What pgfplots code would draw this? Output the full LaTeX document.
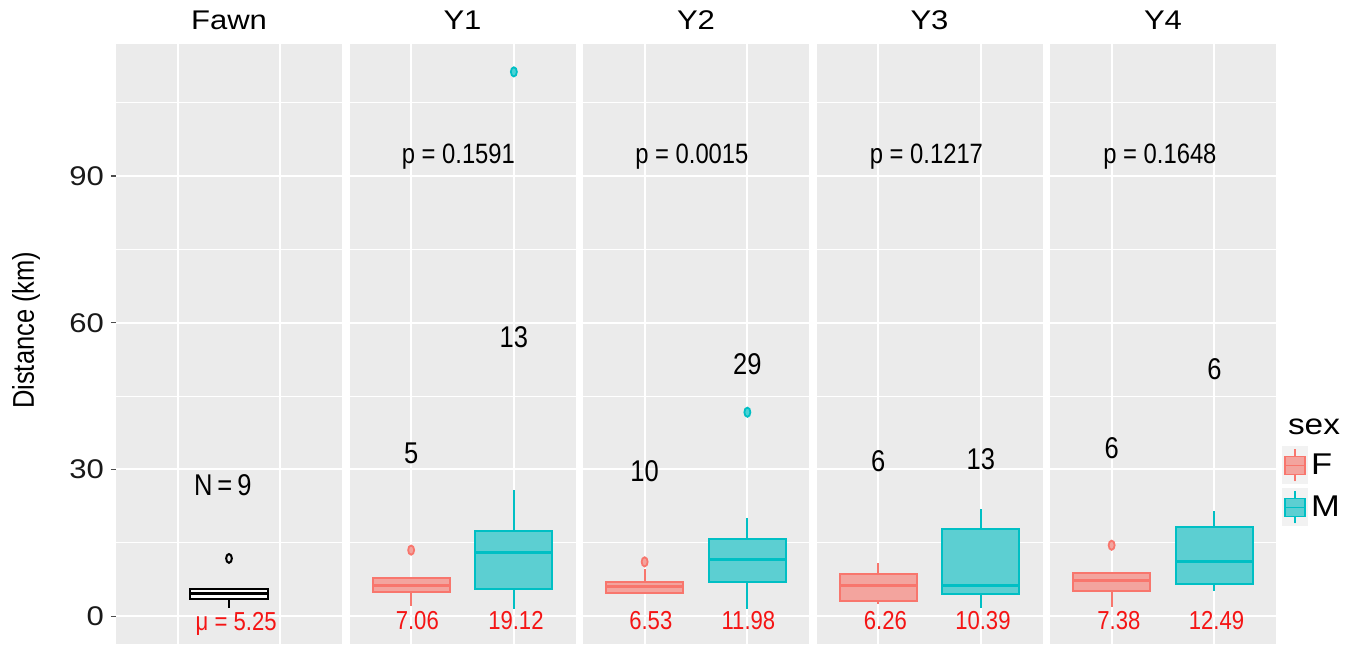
\documentclass[border=0pt]{standalone}
\usepackage{fontspec}
\setmainfont{Liberation Sans}
\newfontfamily\narrow[FakeStretch=0.85]{Liberation Sans}
\newfontfamily\wide[FakeStretch=1.15]{Liberation Sans}
\usepackage{pgfplots}
\pgfplotsset{compat=1.18}
\usepgfplotslibrary{statistics}
\definecolor{panelbg}{HTML}{EBEBEB}
\definecolor{Fcol}{HTML}{F8766D}
\definecolor{Mcol}{HTML}{00BFC4}
\definecolor{Ffill}{HTML}{F3A49E}
\definecolor{Mfill}{HTML}{5CCFD2}
\definecolor{keybg}{HTML}{F2F2F2}
\definecolor{txtred}{HTML}{F51414}
\tikzset{
  cnt/.style={font=\narrow\fontsize{15}{17}\selectfont},
  pval/.style={font=\narrow\fontsize{14}{16}\selectfont},
  mval/.style={font=\narrow\fontsize{13}{15}\selectfont, text=txtred},
}
\pgfplotsset{
  panel/.style={
    scale only axis, width=113pt, height=300pt, anchor=south west,
    xmin=0.4, xmax=2.6, ymin=-5.7, ymax=117,
    axis background/.style={fill=panelbg},
    axis line style={draw=none},
    xtick={1,2}, xticklabels={},
    ytick={0,30,60,90}, minor ytick={15,45,75,105},
    yticklabels={},
    grid=both,
    major grid style={white, line width=1pt},
    minor grid style={white, line width=0.5pt},
    tick style={draw=none},
    major tick length=0pt, minor tick length=0pt,
    title style={at={(0.5,1)}, anchor=base, yshift=1pt, font=\wide\fontsize{13.5}{15}\selectfont},
    clip=false,
    boxplot/draw direction=y,
    boxplot/box extend=0.75,
    boxplot/whisker extend=0,
  },
  Fbox/.style={draw=Fcol, fill=Ffill, line width=1pt, solid, mark=*, mark size=2.3pt,
    mark options={xscale=0.65, draw=Fcol, fill=Ffill, line width=0.9pt},
    boxplot/every median/.style={line width=1.5pt}},
  Mbox/.style={draw=Mcol, fill=Mfill, line width=1pt, solid, mark=*, mark size=2.3pt,
    mark options={xscale=0.65, draw=Mcol, fill=Mcol!70, line width=0.9pt},
    boxplot/every median/.style={line width=1.5pt}},
}
\begin{document}
\begin{tikzpicture}
\useasboundingbox (0,0) rectangle (676.5pt,322pt);
% ---------------- Fawn
\begin{axis}[panel, at={(58pt,0pt)}, title={Fawn},
  yticklabels={0,30,60,90},
  /pgf/number format/assume math mode=true,
  yticklabel style={font=\wide\fontsize{13.5}{15}\selectfont, text=black!90},
  ytick style={draw=black!70, line width=0.6pt},
  major tick length=2.5pt, tick align=outside, ytick pos=left,
  xtick style={draw=none},
  ylabel={Distance (km)},
  ylabel style={at={(axis description cs:-0.398,0.523)}, anchor=center, rotate=0,
    font=\narrow\fontsize{15}{17}\selectfont},
]
\addplot[draw=black, fill=white!85!panelbg, line width=1pt, solid, mark=o, mark size=2.2pt,
  mark options={xscale=0.65, draw=black, line width=1pt},
  boxplot/every median/.style={line width=1.5pt},
  boxplot prepared={draw position=1.5, lower whisker=1.6, lower quartile=3.6,
    median=4.65, upper quartile=5.65, upper whisker=5.65}]
  coordinates {(0,11.8)};
\node[cnt] at (axis cs:1.44,26.8) {N\,=\,9};
\node[mval] at (axis cs:1.57,-1.5) {μ = 5.25};
\end{axis}
% ---------------- Y1
\begin{axis}[panel, at={(174.75pt,0pt)}, title={Y1}]
\addplot[Fbox, boxplot prepared={draw position=1, lower whisker=2.05, lower quartile=4.85,
    median=6.3, upper quartile=7.9, upper whisker=7.9}] coordinates {(0,13.5)};
\addplot[Mbox, boxplot prepared={draw position=2, lower whisker=1.5, lower quartile=5.5,
    median=13.0, upper quartile=17.4, upper whisker=25.8}] coordinates {(0,111.3)};
\node[pval] at (axis cs:1.46,93.9) {p = 0.1591};
\node[cnt] at (axis cs:1,33.3) {5};
\node[cnt] at (axis cs:2,57.0) {13};
\node[mval] at (axis cs:1.06,-1.0) {7.06};
\node[mval] at (axis cs:2.02,-1.0) {19.12};
\end{axis}
% ---------------- Y2
\begin{axis}[panel, at={(291.5pt,0pt)}, title={Y2}]
\addplot[Fbox, boxplot prepared={draw position=1, lower whisker=4.6, lower quartile=4.8,
    median=6.0, upper quartile=7.0, upper whisker=9.55}] coordinates {(0,11.1)};
\addplot[Mbox, boxplot prepared={draw position=2, lower whisker=1.5, lower quartile=7.0,
    median=11.6, upper quartile=15.8, upper whisker=20.1}] coordinates {(0,41.7)};
\node[pval] at (axis cs:1.46,93.9) {p = 0.0015};
\node[cnt] at (axis cs:1,29.6) {10};
\node[cnt] at (axis cs:2,51.5) {29};
\node[mval] at (axis cs:1.06,-1.0) {6.53};
\node[mval] at (axis cs:2.01,-1.0) {11.98};
\end{axis}
% ---------------- Y3
\begin{axis}[panel, at={(408.25pt,0pt)}, title={Y3}]
\addplot[Fbox, boxplot prepared={draw position=1, lower whisker=2.5, lower quartile=3.1,
    median=6.2, upper quartile=8.6, upper whisker=10.8}] coordinates {};
\addplot[Mbox, boxplot prepared={draw position=2, lower whisker=1.6, lower quartile=4.5,
    median=6.3, upper quartile=17.8, upper whisker=22.0}] coordinates {};
\node[pval] at (axis cs:1.47,93.9) {p = 0.1217};
\node[cnt] at (axis cs:1,31.7) {6};
\node[cnt] at (axis cs:2,32.1) {13};
\node[mval] at (axis cs:1.07,-1.0) {6.26};
\node[mval] at (axis cs:2.02,-1.0) {10.39};
\end{axis}
% ---------------- Y4
\begin{axis}[panel, at={(525pt,0pt)}, title={Y4},
  legend style={at={(axis description cs:1.025,0.33)}, anchor=north west, draw=none, fill=none,
    font=\wide\fontsize{15}{17}\selectfont, row sep=2pt, inner sep=0pt,
    nodes={inner sep=1.5pt}},
  legend cell align=left,
]
\addplot[Fbox, boxplot prepared={draw position=1, lower whisker=1.9, lower quartile=5.1,
    median=7.2, upper quartile=8.85, upper whisker=9.1}, 
  legend image code/.code={
    \fill[keybg] (0pt,-9pt) rectangle (12pt,9pt);
    \draw[Fcol, line width=0.8pt] (6pt,-8pt) -- (6pt,-4.5pt) (6pt,4.5pt) -- (6pt,8pt);
    \draw[Fcol, fill=Ffill, line width=0.8pt] (1pt,-4.5pt) rectangle (11pt,4.5pt);
    \draw[Fcol, line width=0.8pt] (1pt,0pt) -- (11pt,0pt);
  }] coordinates {(0,14.5)};
\addlegendentry{F}
\addplot[Mbox, boxplot prepared={draw position=2, lower whisker=5.2, lower quartile=6.6,
    median=11.1, upper quartile=18.2, upper whisker=21.5},
  legend image code/.code={
    \fill[keybg] (0pt,-9pt) rectangle (12pt,9pt);
    \draw[Mcol, line width=0.8pt] (6pt,-8pt) -- (6pt,-4.5pt) (6pt,4.5pt) -- (6pt,8pt);
    \draw[Mcol, fill=Mfill, line width=0.8pt] (1pt,-4.5pt) rectangle (11pt,4.5pt);
    \draw[Mcol, line width=0.8pt] (1pt,0pt) -- (11pt,0pt);
  }] coordinates {};
\addlegendentry{M}
\node[pval] at (axis cs:1.47,93.9) {p = 0.1648};
\node[cnt] at (axis cs:1,34.3) {6};
\node[cnt] at (axis cs:2,50.5) {6};
\node[mval] at (axis cs:1.07,-1.0) {7.38};
\node[mval] at (axis cs:2.02,-1.0) {12.49};
\node[anchor=west, font=\wide\fontsize{14.5}{16}\selectfont] at (axis description cs:1.022,0.362) {sex};
\end{axis}
\end{tikzpicture}
\end{document}
